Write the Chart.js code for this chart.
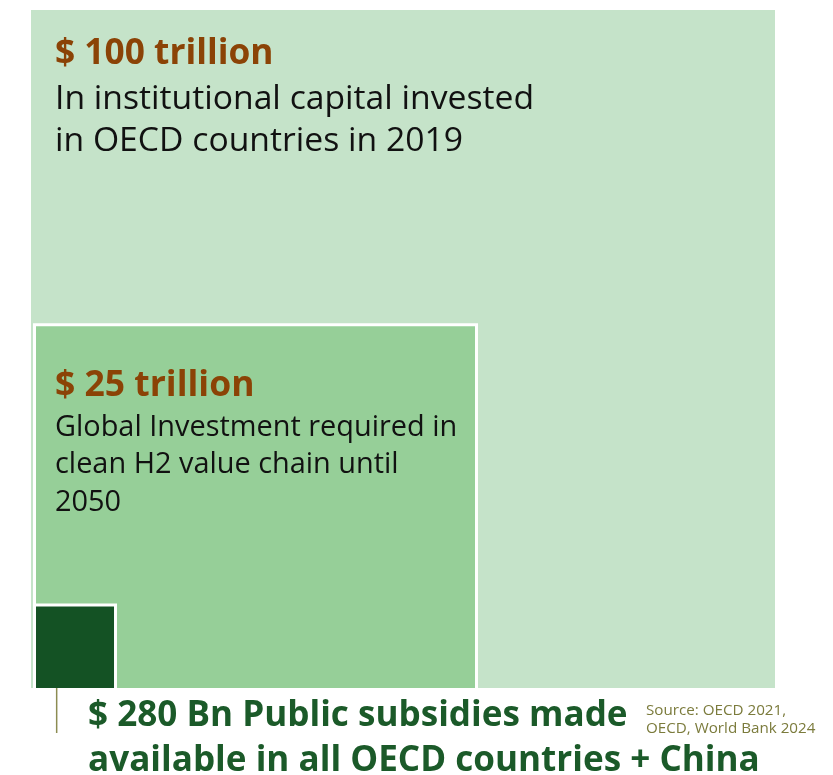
<!DOCTYPE html>
<html>
<head>
<meta charset="utf-8">
<title>Capital vs. hydrogen investment need</title>
<script src="https://cdn.jsdelivr.net/npm/chart.js@4.4.1/dist/chart.umd.min.js"></script>
<style>
  html, body { margin: 0; padding: 0; background: #ffffff; }
  #wrap { width: 833px; height: 775px; }
</style>
</head>
<body>
<div id="wrap"><canvas id="c" width="833" height="775"></canvas></div>
<script>
// Amounts shown (USD)
const amounts = ['$ 100 trillion', '$ 25 trillion', '$ 280 Bn'];
const descriptions = [
  ['In institutional capital invested', 'in OECD countries in 2019'],
  ['Global Investment required in', 'clean H2 value chain until', '2050'],
  ['Public subsidies made', 'available in all OECD countries + China']
];
// Illustrative box extents on a 0–100 grid (left, right, height)
const boxLeft   = [0, 0.47, 0.47];
const boxRight  = [100, 59.88, 11.36];
const boxHeight = [100, 53.57, 12.24];
const boxFill   = ['#c5e3c9', '#96cf98', '#145224'];
const boxEdge   = [0, 3, 3];
const sourceLines = ['Source: OECD 2021,', 'OECD, World Bank 2024'];

const FONT = "'Open Sans', 'Noto Sans', sans-serif";

function boxPoints(i) {
  return [
    { x: boxLeft[i],  y: 0 },
    { x: boxLeft[i],  y: boxHeight[i] },
    { x: boxRight[i], y: boxHeight[i] },
    { x: boxRight[i], y: 0 }
  ];
}

// larger boxes sit underneath the smaller ones
const datasets = amounts.map((a, i) => ({
  label: a,
  data: boxPoints(i),
  showLine: true,
  fill: 'shape',
  backgroundColor: boxFill[i],
  borderColor: '#ffffff',
  borderWidth: boxEdge[i],
  pointRadius: 0,
  tension: 0,
  order: amounts.length - i
}));

// leader line from the smallest box to its caption
datasets.push({
  label: 'leader',
  data: [{ x: 3.45, y: 0 }, { x: 3.45, y: -6.64 }],
  showLine: true,
  fill: false,
  borderColor: '#8c8c52',
  borderWidth: 1.5,
  pointRadius: 0,
  clip: false,
  order: 0
});

const labelPlugin = {
  id: 'boxLabels',
  afterDatasetsDraw(chart) {
    const { ctx, scales: { x, y } } = chart;
    ctx.save();
    ctx.textAlign = 'left';
    ctx.textBaseline = 'alphabetic';

    // big box
    const bx = x.getPixelForValue(boxLeft[0]) + 24;
    const bTop = y.getPixelForValue(boxHeight[0]);
    ctx.fillStyle = '#8b4306';
    ctx.font = 'bold 35.3px ' + FONT;
    ctx.fillText(amounts[0], bx, bTop + 54);
    ctx.fillStyle = '#111111';
    ctx.font = '33.7px ' + FONT;
    descriptions[0].forEach((t, k) => ctx.fillText(t, bx, bTop + 99 + k * 41.5));

    // middle box
    const mTop = y.getPixelForValue(boxHeight[1]);
    ctx.fillStyle = '#8b4306';
    ctx.font = 'bold 35.5px ' + FONT;
    ctx.fillText(amounts[1], bx, mTop + 71);
    ctx.fillStyle = '#111111';
    ctx.font = '28.9px ' + FONT;
    descriptions[1].forEach((t, k) => ctx.fillText(t, bx, mTop + 111 + k * 37.4));

    // small box caption, below the plot
    const base = y.getPixelForValue(0);
    const cx = x.getPixelForValue(boxLeft[0]) + 57;
    ctx.fillStyle = '#1b5a29';
    ctx.font = 'bold 35.1px ' + FONT;
    ctx.fillText(amounts[2] + ' ' + descriptions[2][0], cx, base + 38);
    ctx.fillText(descriptions[2][1], cx, base + 83);

    // source note
    ctx.fillStyle = '#7b7b3c';
    ctx.font = '15.2px ' + FONT;
    sourceLines.forEach((t, k) => ctx.fillText(t, cx + 558, base + 27 + k * 18));
    ctx.restore();
  }
};

new Chart(document.getElementById('c'), {
  type: 'scatter',
  data: { datasets },
  options: {
    responsive: false,
    animation: false,
    layout: { padding: { left: 31, right: 58, top: 10, bottom: 87 } },
    scales: {
      x: { type: 'linear', min: 0, max: 100, display: false },
      y: { type: 'linear', min: 0, max: 100, display: false }
    },
    plugins: {
      legend: { display: false },
      tooltip: { enabled: false },
      title: { display: false }
    }
  },
  plugins: [labelPlugin]
});
</script>
</body>
</html>
